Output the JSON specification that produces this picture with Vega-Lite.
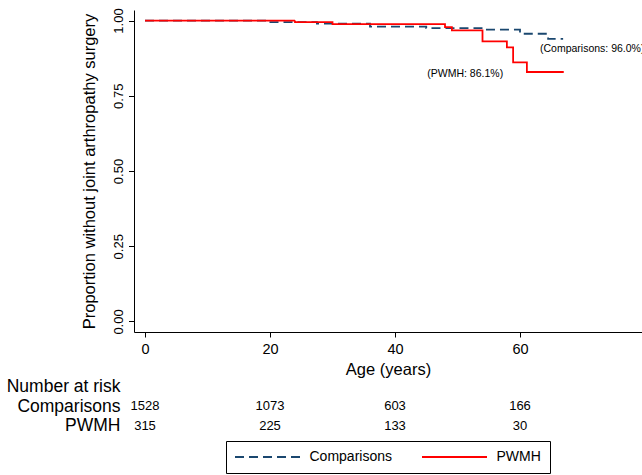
{
  "$schema": "https://vega.github.io/schema/vega-lite/v6.json",
  "padding": {"left": 6, "top": 7, "right": 0, "bottom": 1},
  "background": "white",
  "bounds": "flush",
  "spacing": 45,
  "config": {
    "view": {"stroke": null},
    "font": "Liberation Sans",
    "axis": {"grid": false, "domainColor": "#000", "tickColor": "#000", "labelColor": "#000", "titleColor": "#000", "labelFont": "Liberation Sans", "titleFont": "Liberation Sans", "titleFontWeight": "normal"},
    "legend": {"layout": {"bottom": {"anchor": "middle"}}}
  },
  "datasets": {
    "km": [
      {"group": "Comparisons", "age": 0, "surv": 1.0},
      {"group": "Comparisons", "age": 19.5, "surv": 0.995},
      {"group": "Comparisons", "age": 27.5, "surv": 0.99},
      {"group": "Comparisons", "age": 36, "surv": 0.98},
      {"group": "Comparisons", "age": 45, "surv": 0.975},
      {"group": "Comparisons", "age": 54, "surv": 0.97},
      {"group": "Comparisons", "age": 60, "surv": 0.956},
      {"group": "Comparisons", "age": 64.5, "surv": 0.939},
      {"group": "Comparisons", "age": 66.9, "surv": 0.939},
      {"group": "PWMH", "age": 0, "surv": 1.0},
      {"group": "PWMH", "age": 24, "surv": 0.995},
      {"group": "PWMH", "age": 30, "surv": 0.988},
      {"group": "PWMH", "age": 48, "surv": 0.978},
      {"group": "PWMH", "age": 49.1, "surv": 0.967},
      {"group": "PWMH", "age": 54, "surv": 0.931},
      {"group": "PWMH", "age": 57.9, "surv": 0.911},
      {"group": "PWMH", "age": 58.9, "surv": 0.861},
      {"group": "PWMH", "age": 61.1, "surv": 0.829},
      {"group": "PWMH", "age": 67, "surv": 0.829}
    ],
    "notes": [
      {"group": "Comparisons", "age": 63.2, "surv": 0.906, "label": "(Comparisons: 96.0%)"},
      {"group": "PWMH", "age": 57.3, "surv": 0.823, "label": "(PWMH: 86.1%)"}
    ],
    "risk": [
      {"group": "Comparisons", "age": 0, "n": "1528"},
      {"group": "Comparisons", "age": 20, "n": "1073"},
      {"group": "Comparisons", "age": 40, "n": "603"},
      {"group": "Comparisons", "age": 60, "n": "166"},
      {"group": "PWMH", "age": 0, "n": "315"},
      {"group": "PWMH", "age": 20, "n": "225"},
      {"group": "PWMH", "age": 40, "n": "133"},
      {"group": "PWMH", "age": 60, "n": "30"}
    ]
  },
  "vconcat": [
    {
      "width": 508,
      "height": 322,
      "layer": [
        {
          "data": {"name": "km"},
          "mark": {"type": "line", "interpolate": "step-after", "strokeWidth": 1.8},
          "encoding": {
            "x": {"field": "age", "type": "quantitative",
              "scale": {"domain": [-1.76, 79.52], "nice": false, "zero": false},
              "axis": {"values": [0, 20, 40, 60, 80], "title": "Age (years)", "titleFontSize": 16.5, "labelFontSize": 14.5, "tickSize": 5, "labelPadding": 5, "titlePadding": 6, "labelFlush": false}},
            "y": {"field": "surv", "type": "quantitative",
              "scale": {"domain": [-0.035, 1.035], "nice": false, "zero": false},
              "axis": {"values": [0, 0.25, 0.5, 0.75, 1], "format": ".2f", "labelAngle": -90, "labelAlign": "center", "labelBaseline": "alphabetic", "labelFontSize": 13, "labelPadding": 6.5, "tickSize": 5.5, "title": "Proportion without joint arthropathy surgery", "titleFontSize": 16.5, "titlePadding": 14.5}},
            "color": {"field": "group", "type": "nominal",
              "scale": {"domain": ["Comparisons", "PWMH"], "range": ["#1a476f", "#ff0000"]},
              "legend": {"title": null, "orient": "bottom", "direction": "horizontal", "symbolType": "M-6.5,0H6.5", "symbolSize": 100, "symbolOffset": 25.5, "symbolStrokeWidth": 1.8, "labelFontSize": 14, "labelColor": "#000", "strokeColor": "#000", "padding": 9, "columnPadding": 26, "labelOffset": 35, "offset": 5}},
            "strokeDash": {"field": "group", "type": "nominal",
              "scale": {"domain": ["Comparisons", "PWMH"], "range": [[9, 5], [1, 0]]},
              "legend": {"title": null, "orient": "bottom", "direction": "horizontal", "symbolType": "M-6.5,0H6.5", "symbolSize": 100, "symbolOffset": 25.5, "symbolStrokeWidth": 1.8, "labelFontSize": 14, "labelColor": "#000", "strokeColor": "#000", "padding": 9, "columnPadding": 26, "labelOffset": 35, "offset": 5}}
          }
        },
        {
          "mark": {"type": "rule", "color": "#333333", "strokeWidth": 1},
          "encoding": {"x": {"datum": 60}}
        },
        {
          "data": {"name": "notes"},
          "transform": [{"filter": "datum.group == 'Comparisons'"}],
          "mark": {"type": "text", "fontSize": 10.5, "align": "left", "baseline": "middle", "clip": true, "color": "#000"},
          "encoding": {
            "x": {"field": "age", "type": "quantitative"},
            "y": {"field": "surv", "type": "quantitative"},
            "text": {"field": "label"}
          }
        },
        {
          "data": {"name": "notes"},
          "transform": [{"filter": "datum.group == 'PWMH'"}],
          "mark": {"type": "text", "fontSize": 10.5, "align": "right", "baseline": "middle", "clip": true, "color": "#000"},
          "encoding": {
            "x": {"field": "age", "type": "quantitative"},
            "y": {"field": "surv", "type": "quantitative"},
            "text": {"field": "label"}
          }
        }
      ]
    },
    {
      "width": 508,
      "height": 58.5,
      "data": {"name": "risk"},
      "mark": {"type": "text", "fontSize": 13, "color": "#000", "baseline": "middle"},
      "encoding": {
        "x": {"field": "age", "type": "quantitative", "scale": {"domain": [-1.76, 79.52], "nice": false, "zero": false}, "axis": null},
        "y": {"field": "group", "type": "nominal",
          "scale": {"domain": ["Number at risk", "Comparisons", "PWMH"], "paddingInner": 0, "paddingOuter": 0},
          "axis": {"title": null, "domain": false, "ticks": false, "labelFontSize": 17.5, "labelPadding": 14, "labelColor": "#000"}},
        "text": {"field": "n"}
      }
    }
  ]
}
